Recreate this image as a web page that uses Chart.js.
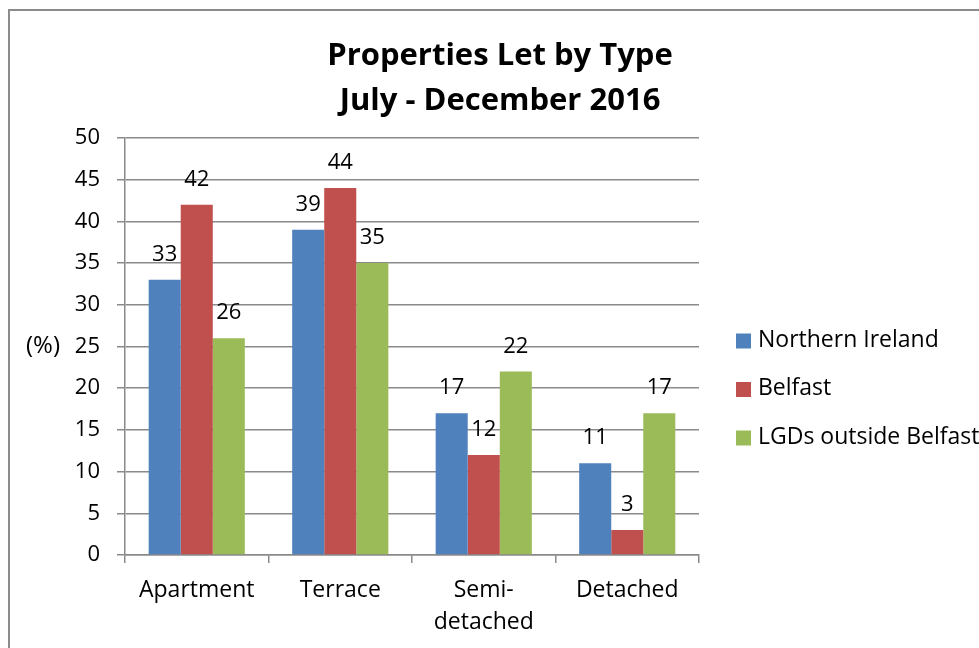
<!DOCTYPE html>
<html>
<head>
<meta charset="utf-8">
<script src="https://cdn.jsdelivr.net/npm/chart.js@4"></script>
<style>
  body { margin: 0; background: #fff; }
  #wrap { width: 979px; height: 648px; }
</style>
</head>
<body>
<div id="wrap"><canvas id="chart" width="979" height="648"></canvas></div>
<script>
const categories = [['Apartment'], ['Terrace'], ['Semi-', 'detached'], ['Detached']]
const northernIreland = [33, 39, 17, 11]
const belfast = [42, 44, 12, 3]
const lgdsOutside = [26, 35, 22, 17]
const seriesNames = ['Northern Ireland', 'Belfast', 'LGDs outside Belfast']
const titleLines = ['Properties Let by Type', 'July - December 2016']

const FONT = '"Open Sans", "Noto Sans", sans-serif'
const colors = ['#4F81BD', '#C0504D', '#9BBB59']
const gridColor = '#8a8a8a'

// frame, title, legend, (%) and value labels
const extras = {
    id: 'extras',
    beforeDraw(chart) {
        const ctx = chart.ctx
        ctx.save()
        ctx.strokeStyle = '#8c8c8c'
        ctx.lineWidth = 2
        ctx.strokeRect(9, 10, 2000, 2000)
        ctx.restore()
    },
    afterDraw(chart) {
        const ctx = chart.ctx
        ctx.save()
        ctx.fillStyle = '#000'
        ctx.textAlign = 'center'
        ctx.textBaseline = 'middle'
        ctx.font = 'bold 31px ' + FONT
        titleLines.forEach((t, i) => ctx.fillText(t, 500, 56 + i * 45))

        ctx.font = '24px ' + FONT
        ctx.fillText('(%)', 43, 346)

        // value labels
        ctx.font = '22px ' + FONT
        ctx.textBaseline = 'alphabetic'
        chart.data.datasets.forEach((ds, di) => {
            chart.getDatasetMeta(di).data.forEach((bar, i) => {
                ctx.fillText(ds.data[i], bar.x, bar.y - 19)
            })
        })

        // legend
        ctx.font = '23px ' + FONT
        ctx.textAlign = 'left'
        ctx.textBaseline = 'middle'
        seriesNames.forEach((name, i) => {
            const y = 341 + i * 48.5
            ctx.fillStyle = colors[i]
            ctx.fillRect(736, y - 7.5, 15, 15)
            ctx.fillStyle = '#000'
            ctx.fillText(name, 758, y - 1)
        })
        ctx.restore()
    }
}

let ctx = document.getElementById('chart').getContext('2d')
let chart = new Chart(ctx, {
    type: 'bar',
    data: {
        labels: categories,
        datasets: [
            { label: seriesNames[0], data: northernIreland, backgroundColor: colors[0] },
            { label: seriesNames[1], data: belfast, backgroundColor: colors[1] },
            { label: seriesNames[2], data: lgdsOutside, backgroundColor: colors[2] }
        ]
    },
    options: {
        responsive: false,
        animation: false,
        layout: { padding: { top: 138, right: 280, left: 0, bottom: 0 } },
        datasets: { bar: { categoryPercentage: 0.67, barPercentage: 1 } },
        plugins: {
            legend: { display: false },
            title: { display: false },
            tooltip: { enabled: false }
        },
        scales: {
            x: {
                afterFit(scale) { scale.height = 93 },
                grid: { drawOnChartArea: false, drawTicks: true, tickLength: 8, color: gridColor, lineWidth: 1.5 },
                border: { display: true, color: gridColor, width: 1.5 },
                ticks: { color: '#000', font: { family: FONT, size: 23, lineHeight: 1.4 }, padding: 11, maxRotation: 0 }
            },
            y: {
                min: 0,
                max: 50,
                afterFit(scale) { scale.width = 125 },
                grid: { color: gridColor, lineWidth: 1.5, tickLength: 8 },
                border: { display: true, color: gridColor, width: 1.5 },
                ticks: { stepSize: 5, color: '#000', font: { family: FONT, size: 22 }, padding: 17 }
            }
        }
    },
    plugins: [extras]
})
</script>
</body>
</html>
